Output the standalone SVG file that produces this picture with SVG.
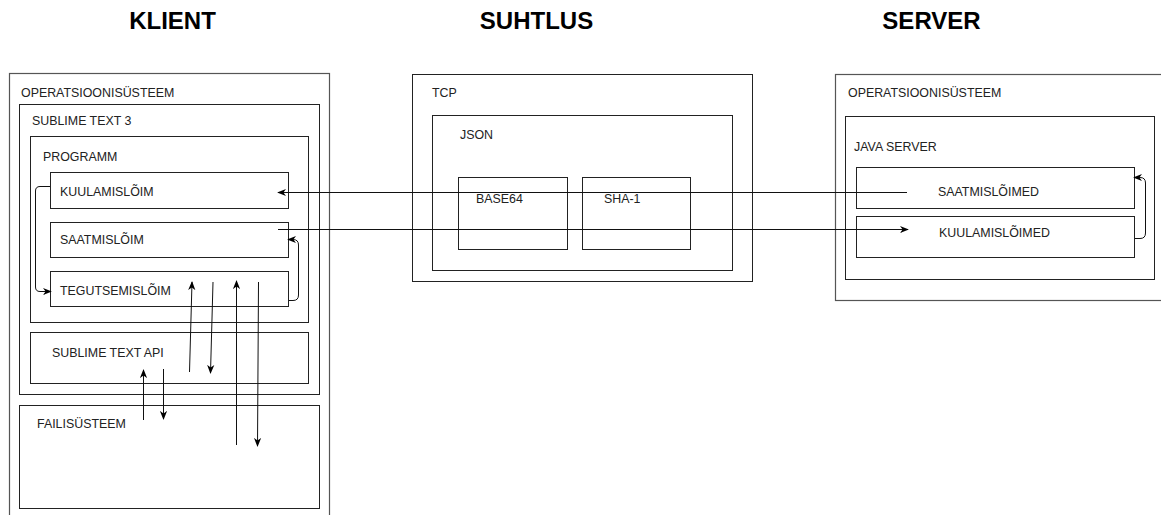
<svg xmlns="http://www.w3.org/2000/svg" width="1161" height="515" viewBox="0 0 1161 515">
<style>
.box{fill:none;stroke:#222;stroke-width:1}
.outer{fill:none;stroke:#555;stroke-width:1.2}
.t{font-family:"Liberation Sans",Arial,sans-serif;font-size:12.4px;fill:#222}
.h{font-family:"Liberation Sans",Arial,sans-serif;font-size:24px;font-weight:bold;fill:#000;text-anchor:middle}
.c{fill:none;stroke:#111;stroke-width:1}
</style>
<defs>
<marker id="ah" viewBox="0 0 10 10" refX="9" refY="5" markerWidth="9" markerHeight="9" orient="auto" markerUnits="userSpaceOnUse">
<path d="M0,1 L10,5 L0,9 L3,5 z" fill="#000"/>
</marker>
</defs>
<rect width="1161" height="515" fill="#fff"/>
<g id="headers">
<text class="h" x="172.5" y="29">KLIENT</text>
<text class="h" x="536.5" y="29">SUHTLUS</text>
<text class="h" x="931.5" y="29">SERVER</text>
</g>
<g id="client-os"><rect class="outer" x="9.5" y="73.5" width="320" height="460"/><text class="t" x="21" y="97">OPERATSIOONISÜSTEEM</text></g>
<g id="sublime"><rect class="box" x="19.5" y="104.5" width="300" height="290"/><text class="t" x="32" y="125">SUBLIME TEXT 3</text></g>
<g id="programm"><rect class="box" x="30.5" y="136.5" width="278" height="186"/><text class="t" x="43" y="161">PROGRAMM</text></g>
<g id="kuulamisloim"><rect class="box" x="50.5" y="172.5" width="238" height="36"/><text class="t" x="60" y="196">KUULAMISLÕIM</text></g>
<g id="saatmisloim"><rect class="box" x="50.5" y="222.5" width="238" height="35"/><text class="t" x="60" y="244">SAATMISLÕIM</text></g>
<g id="tegutsemisloim"><rect class="box" x="50.5" y="271.5" width="238" height="35"/><text class="t" x="60" y="295">TEGUTSEMISLÕIM</text></g>
<g id="sublime-api"><rect class="box" x="30.5" y="332.5" width="278" height="51"/><text class="t" x="52" y="357">SUBLIME TEXT API</text></g>
<g id="failisusteem"><rect class="box" x="19.5" y="405.5" width="300" height="103"/><text class="t" x="37" y="428">FAILISÜSTEEM</text></g>
<g id="tcp"><rect class="box" x="412.5" y="74.5" width="340" height="207"/><text class="t" x="432" y="97">TCP</text></g>
<g id="json"><rect class="box" x="432.5" y="115.5" width="300" height="155"/><text class="t" x="460" y="139">JSON</text></g>
<g id="base64"><rect class="box" x="458.5" y="177.5" width="109" height="72"/><text class="t" x="476" y="203">BASE64</text></g>
<g id="sha1"><rect class="box" x="582.5" y="177.5" width="108" height="72"/><text class="t" x="604" y="203">SHA-1</text></g>
<g id="server-os"><rect class="outer" x="835.5" y="74.5" width="340" height="226"/><text class="t" x="848" y="97">OPERATSIOONISÜSTEEM</text></g>
<g id="java-server"><rect class="box" x="845.5" y="116.5" width="309" height="163"/><text class="t" x="854" y="151">JAVA SERVER</text></g>
<g id="saatmisloimed"><rect class="box" x="856.5" y="167.5" width="278" height="41"/><text class="t" x="938" y="196">SAATMISLÕIMED</text></g>
<g id="kuulamisloimed"><rect class="box" x="856.5" y="216.5" width="278" height="41"/><text class="t" x="939" y="237">KUULAMISLÕIMED</text></g>
<g id="connectors">
<path class="c" d="M907,192.5 L278,192.5" marker-end="url(#ah)"/>
<path class="c" d="M278,229.5 L908,229.5" marker-end="url(#ah)"/>
<path class="c" d="M50,186.5 L40,186.5 Q35.5,186.5 35.5,191 L35.5,287 Q35.5,291.5 40,291.5 L51,291.5" marker-end="url(#ah)"/>
<path class="c" d="M289,300.5 L293,300.5 Q298.5,300.5 298.5,295 L298.5,245 Q298.5,239.5 293,239.5 L288,239.5" marker-end="url(#ah)"/>
<path class="c" d="M1135,238.5 L1140,238.5 Q1145.5,238.5 1145.5,233 L1145.5,183 Q1145.5,177.5 1140,177.5 L1134,177.5" marker-end="url(#ah)"/>
<path class="c" d="M189.5,372 L192,282" marker-end="url(#ah)"/>
<path class="c" d="M213,282 L210.5,373" marker-end="url(#ah)"/>
<path class="c" d="M236.5,445 L236.5,281" marker-end="url(#ah)"/>
<path class="c" d="M258.5,282 L257.5,446" marker-end="url(#ah)"/>
<path class="c" d="M143.5,420 L143.5,370" marker-end="url(#ah)"/>
<path class="c" d="M163.5,369 L163.5,419" marker-end="url(#ah)"/>
</g>
</svg>
